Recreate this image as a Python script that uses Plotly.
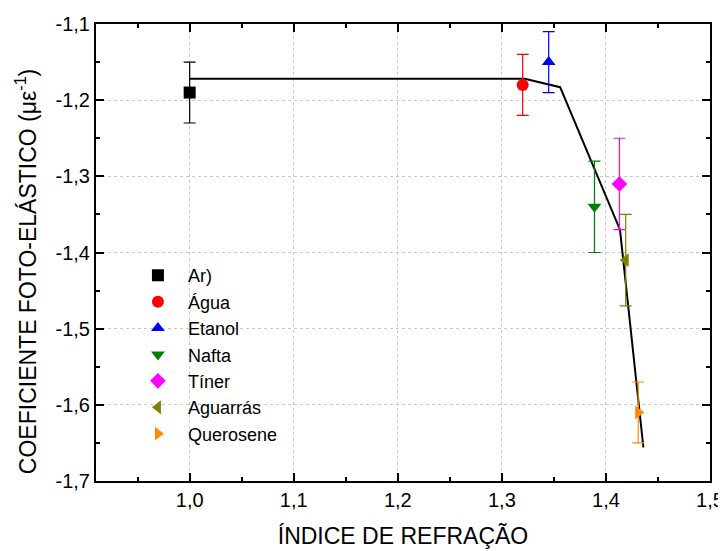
import plotly.graph_objects as go

# Measured points: refractive index, photo-elastic coefficient, error
names = ['Ar)', 'Água', 'Etanol', 'Nafta', 'Tíner', 'Aguarrás', 'Querosene']
x_index = [1.0, 1.320, 1.345, 1.389, 1.413, 1.419, 1.431]
y_coef = [-1.19, -1.18, -1.15, -1.34, -1.31, -1.41, -1.61]
y_err = [0.04, 0.04, 0.04, 0.06, 0.06, 0.06, 0.04]
colors = ['black', 'red', 'blue', 'green', 'magenta', 'olive', 'darkorange']
symbols = ['square', 'circle', 'triangle-up', 'triangle-down', 'diamond',
           'triangle-left', 'triangle-right']

# Fitted curve
fit_x = [1.0, 1.322, 1.356, 1.4135, 1.436]
fit_y = [-1.172, -1.172, -1.183, -1.370, -1.656]

# Tick labels (hyphen minus and decimal comma as in the original)
x_ticks = [1.0, 1.1, 1.2, 1.3, 1.4, 1.5]
x_tick_labels = ['1,0', '1,1', '1,2', '1,3', '1,4', '1,5']
y_ticks = [-1.1, -1.2, -1.3, -1.4, -1.5, -1.6, -1.7]
y_tick_labels = ['-1,1', '-1,2', '-1,3', '-1,4', '-1,5', '-1,6', '-1,7']

fig = go.Figure()
fig.add_trace(go.Scatter(x=fit_x, y=fit_y, mode='lines',
                         line=dict(color='black', width=2), showlegend=False))

for name, x, y, e, c, s in zip(names, x_index, y_coef, y_err, colors, symbols):
    fig.add_trace(go.Scatter(
        x=[x], y=[y], mode='markers', name=name,
        marker=dict(symbol=s, color=c, size=12),
        error_y=dict(type='data', array=[e], color=c, thickness=1.2, width=6)))

axis_common = dict(showline=True, linecolor='black', linewidth=2, mirror='ticks',
                   ticks='inside', ticklen=8, tickwidth=2, tickcolor='black',
                   showgrid=True, gridcolor='#c8c8c8', griddash='dot', gridwidth=1,
                   zeroline=False, automargin=False,
                   tickfont=dict(size=20, color='black'),
                   minor=dict(ticks='inside', ticklen=4, tickcolor='black', tickwidth=1.5,
                              showgrid=False))

fig.update_xaxes(range=[0.91, 1.5], tickvals=x_ticks, ticktext=x_tick_labels,
                 minor_dtick=0.05, minor_tick0=1.0,
                 title=dict(text='ÍNDICE DE REFRAÇÃO', font=dict(size=23, color='black'),
                            standoff=18),
                 **axis_common)
fig.update_yaxes(range=[-1.7, -1.1], tickvals=y_ticks, ticktext=y_tick_labels,
                 minor_dtick=0.05, minor_tick0=-1.1,
                 **axis_common)

# y title sits a little below the axis centre in the original
fig.add_annotation(text='COEFICIENTE FOTO-ELÁSTICO (με<sup>-1</sup>)',
                   xref='paper', yref='paper', x=-0.114, y=0.457,
                   xanchor='center', yanchor='middle', textangle=-90,
                   showarrow=False, font=dict(size=23, color='black'))

# page has an 8px body margin, so the figure is a bit smaller than the window
fig.update_layout(width=718, height=543,
                  font=dict(family='Liberation Sans, Arial', color='black'),
                  plot_bgcolor='white', paper_bgcolor='white',
                  margin=dict(l=88, r=16, t=16, b=70),
                  legend=dict(x=0.052, y=0.49, xanchor='left', yanchor='top',
                              bgcolor='rgba(0,0,0,0)', font=dict(size=18),
                              itemwidth=50))

fig.write_html('out.html')
